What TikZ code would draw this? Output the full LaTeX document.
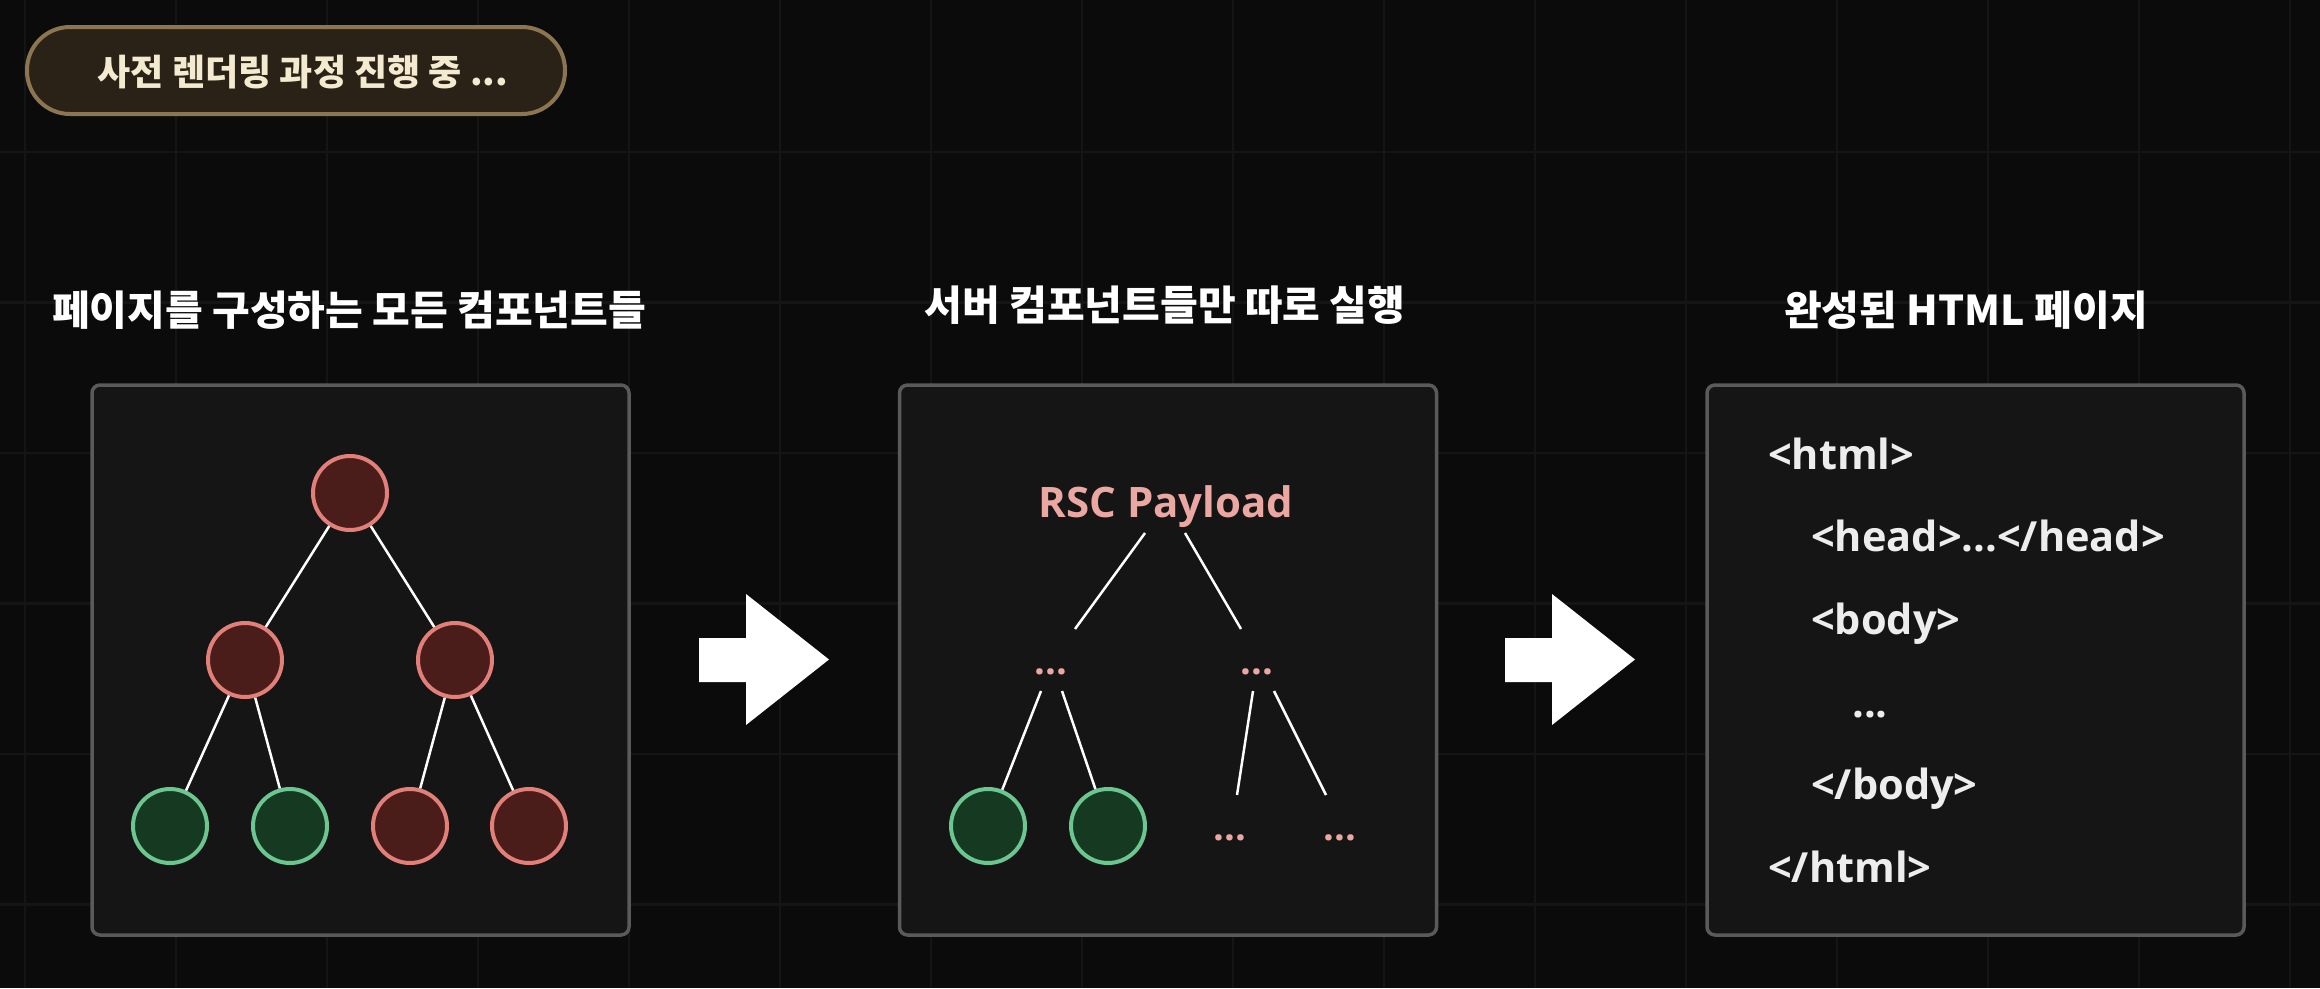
\documentclass[tikz,border=0pt]{standalone}
\usepackage{fontspec}
\setmainfont{Open Sans}
\newfontfamily\kr{Noto Sans CJK KR}
\usetikzlibrary{calc}
\definecolor{bg}{HTML}{0B0B0B}
\definecolor{gridc}{HTML}{151515}
\definecolor{panelfill}{HTML}{161616}
\definecolor{panelline}{HTML}{5A5A5A}
\definecolor{redfill}{HTML}{4A1D1B}
\definecolor{redline}{HTML}{E27F78}
\definecolor{greenfill}{HTML}{163A21}
\definecolor{greenline}{HTML}{6CC690}
\definecolor{pinktext}{HTML}{EBA7A1}
\definecolor{pillfill}{HTML}{2B2217}
\definecolor{pillline}{HTML}{8C7651}
\definecolor{pilltext}{HTML}{F3EAD0}
\definecolor{codetext}{HTML}{EDEDED}
\begin{document}
\begin{tikzpicture}[x=1pt,y=-1pt,
  gridline/.style={draw=gridc,line width=2.5pt},
  pill/.style={draw=pillline,fill=pillfill,line width=4pt,rounded corners=43pt,
    minimum width=538pt,minimum height=87pt,inner sep=0pt},
  pilllabel/.style={text=pilltext,inner sep=0pt,font=\kr\bfseries\fontsize{36pt}{42pt}\selectfont},
  heading/.style={text=white,inner sep=0pt,font=\kr\bfseries\fontsize{41pt}{48pt}\selectfont},
  panel/.style={draw=panelline,fill=panelfill,fill opacity=0.93,line width=3.5pt,
    rounded corners=8pt,minimum width=537pt,minimum height=550pt,inner sep=0pt},
  rnode/.style={circle,draw=redline,fill=redfill,line width=4pt,minimum size=74pt,inner sep=0pt},
  gnode/.style={circle,draw=greenline,fill=greenfill,line width=4pt,minimum size=74pt,inner sep=0pt},
  edge/.style={draw=white,line width=2.5pt},
  pinkdots/.style={text=pinktext,inner sep=0pt,font=\bfseries\fontsize{38pt}{44pt}\selectfont},
  rsc/.style={text=pinktext,inner sep=0pt,anchor=base,font=\bfseries\fontsize{42pt}{50pt}\selectfont},
  code/.style={text=codetext,inner sep=0pt,anchor=base west,font=\bfseries\fontsize{41.5pt}{50pt}\selectfont},
  bigarrow/.style={fill=white}
]
\useasboundingbox (0,0) rectangle (2320,988);
\fill[bg] (0,0) rectangle (2320,988);
% grid
\foreach \x in {25,176,...,2320} \draw[gridline] (\x,0) -- (\x,988);
\foreach \y in {152,302.5,...,988} \draw[gridline] (0,\y) -- (2320,\y);

% badge
\node[pill] (badge) at (296,70.5) {};
\node[pilllabel] (badgetext) at (303,72) {사전 렌더링 과정 진행 중 ...};

% headings
\node[heading] (h1) at (349,310) {페이지를 구성하는 모든 컴포넌트들};
\node[heading] (h2) at (1165,305) {서버 컴포넌트들만 따로 실행};
\node[heading] (h3) at (1966,310) {완성된 HTML 페이지};

% panels
\node[panel] (p1) at (360.5,660) {};
\node[panel] (p2) at (1168,660) {};
\node[panel] (p3) at (1975.5,660) {};

% panel 1 tree
\node[rnode] (n0) at (350,493) {};
\node[rnode] (n1) at (245,660) {};
\node[rnode] (n2) at (455,660) {};
\node[gnode] (n3) at (170,826) {};
\node[gnode] (n4) at (290,826) {};
\node[rnode] (n5) at (410,826) {};
\node[rnode] (n6) at (529,826) {};
\draw[edge] (n0) -- (n1);
\draw[edge] (n0) -- (n2);
\draw[edge] (n1) -- (n3);
\draw[edge] (n1) -- (n4);
\draw[edge] (n2) -- (n5);
\draw[edge] (n2) -- (n6);

% panel 2 tree
\node[rsc] (rsc) at (1166,517) {RSC Payload};
\node[pinkdots] (d1) at (1051,672) {...};
\node[pinkdots] (d2) at (1257,672) {...};
\node[gnode] (g1) at (988,826) {};
\node[gnode] (g2) at (1108,826) {};
\node[pinkdots] (b1) at (1230,838) {...};
\node[pinkdots] (b2) at (1340,838) {...};
\draw[edge] ($(rsc.base)+(-21,16)$) -- ($(d1.center)+(24,-43)$);
\draw[edge] ($(rsc.base)+(19,16)$) -- ($(d2.center)+(-16,-43)$);
\draw[edge] ($(d1.center)+(-10,19)$) -- (g1);
\draw[edge] ($(d1.center)+(11,19)$) -- (g2);
\draw[edge] ($(d2.center)+(-4,19)$) -- ($(b1.center)+(7,-43)$);
\draw[edge] ($(d2.center)+(17,19)$) -- ($(b2.center)+(-14,-43)$);

% panel 3 code
\node[code] (c1) at (1768,469) {<html>};
\node[code] (c2) at (1811,551) {<head>...</head>};
\node[code] (c3) at (1811,634) {<body>};
\node[code] (c4) at (1852,717) {...};
\node[code] (c5) at (1811,799) {</body>};
\node[code] (c6) at (1768,882) {</html>};

% arrows between panels
\foreach \dx in {0,806} {
  \fill[bigarrow] (699+\dx,638) -- (746+\dx,638) -- (746+\dx,594) -- (829+\dx,659.5)
     -- (746+\dx,725) -- (746+\dx,682) -- (699+\dx,682) -- cycle;
}
\end{tikzpicture}
\end{document}
